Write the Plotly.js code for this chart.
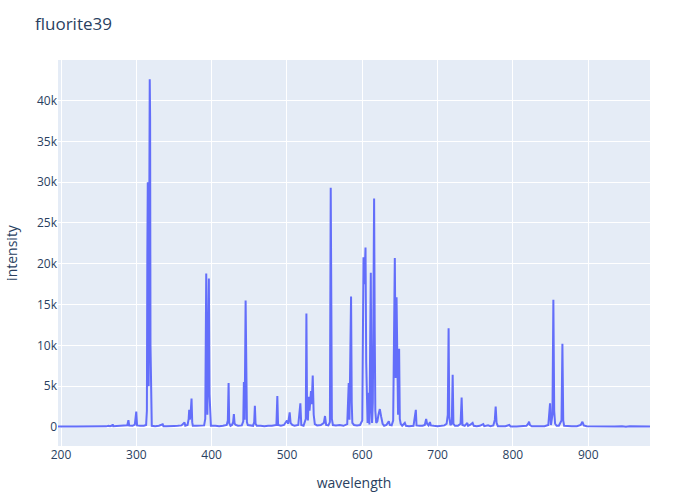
<!DOCTYPE html>
<html>
<head>
<meta charset="utf-8">
<script src="https://cdn.plot.ly/plotly-3.0.1.min.js"></script>
<style>html,body{margin:0;padding:0;background:#fff;}#chart{width:700px;height:500px;}</style>
</head>
<body>
<div id="chart"></div>
<script>
const chartTitle = "fluorite39";
const xLabel = "wavelength";
const yLabel = "intensity";

const wavelength = [
196,200,210,220,230,235,240,245,250,255,260,263,265,268,268.6,269.5,275,280,285,288,289.5,290.5,295,298,299.9,301,305,310,313,
314,314.6,315.2,315.8,316.4,317,317.8,318.3,318.8,319.3,319.8,320.5,325,330,335,336,340,345,350,355,360,364,365,368,369.5,370.2,371,372,373.3,374.2,375,
380,385,390,391.5,392.8,393.5,394.3,395.3,396.3,397.2,398,399,405,410,415,420,421.5,422.5,423.3,425,427,428.5,429.5,430.5,432,435,440,442,442.8,443.8,445.1,446,446.8,448,
450,455,456.5,457.4,458.3,460,465,470,475,480,486,487.2,488.2,492,496,498.5,500,501.5,503.6,504.8,507,510,515,517.8,519,522,525,525.8,526.6,527.8,528.9,530,531.9,532.8,534.2,535.5,537,
540,545,549,550.5,552,555,557,558.1,558.9,559.6,561,565,570,575,580,582,583,585.1,586,586.8,589,593,597,600,601.6,602.4,603.2,604.3,605.2,606,607,608,608.6,609.5,610.3,611.3,612.2,613,614,615.7,616.5,617.3,618.5,
620,621.5,623.3,625,627,629,632,635.2,636.5,639,641,643.2,644.3,645.5,646.5,647.5,648.9,649.8,651,653,656.5,658,662,668,671.1,672,676,680,683,684.8,686,688,689.8,691,695,
700,705,709,712,713.5,714.6,715.5,717,718.8,720,721,723,727,730.5,731.9,733,736,739.4,740.5,743,746.5,748,752,756,760.6,762,767,770,774,776,777.1,778.3,780,785,790,795.2,797,
805,812,818,820.3,821.4,822.6,825,830,836,842,847,849.3,850.5,852.5,853.7,854.8,856,858,861,864.5,865.7,866.8,868,872,878,885,890,892.3,894,898,
905,915,925,935,945,950,955,965,975,982
];

const intensity = [
60,40,50,70,60,90,70,60,90,100,80,140,100,180,330,100,130,100,150,220,850,180,150,300,1900,200,150,150,250,
2000,21000,30000,12000,5000,22000,42600,38000,10000,5000,900,150,100,150,330,100,100,80,130,150,200,550,150,250,1000,2100,900,1500,3500,600,150,
150,150,200,1000,18800,11000,1500,8000,18200,4000,500,150,150,100,150,250,800,5400,500,150,250,600,1600,400,250,150,200,700,5500,900,15500,3000,600,250,
200,150,600,2600,400,150,150,100,150,150,250,3800,250,150,250,600,800,400,1800,500,250,150,250,2900,250,150,1000,13900,3000,800,3700,2000,4400,2800,6300,1500,350,
200,250,500,1350,250,200,600,29300,15000,1000,250,200,250,150,350,5400,900,16000,3000,500,250,200,250,800,20800,17500,19000,22000,8000,1000,500,1500,4200,300,6000,18900,2000,500,3000,28000,12000,2000,500,
700,1500,2200,1300,400,150,250,700,250,200,800,20700,6000,15900,4000,1500,9600,1000,400,150,500,150,100,150,2100,200,150,150,250,1000,400,200,600,200,150,
100,150,200,400,1500,12100,1200,250,400,6400,400,150,150,400,3600,250,150,500,150,250,500,150,100,150,350,100,200,100,200,900,2500,500,100,100,100,250,60,
60,100,150,400,650,250,100,100,60,100,250,2900,250,1500,15600,2000,400,150,150,800,10200,800,150,100,100,100,250,650,200,100,
80,60,80,60,100,40,100,60,100,60
];

const trace = {
  x: wavelength,
  y: intensity,
  type: "scatter",
  mode: "lines",
  line: {color: "#636efa", width: 2},
  name: ""
};

const layout = {
  width: 700,
  height: 500,
  paper_bgcolor: "#ffffff",
  plot_bgcolor: "#E5ECF6",
  font: {family: '"Open Sans", verdana, arial, sans-serif', color: "#2a3f5f", size: 12},
  title: {text: chartTitle, x: 0.05, font: {size: 17, color: "#2a3f5f"}},
  margin: {l: 58, r: 50, t: 60, b: 54},
  showlegend: false,
  xaxis: {
    title: {text: xLabel, font: {size: 14}, standoff: 16},
    gridcolor: "white", linecolor: "white", zerolinecolor: "white", zerolinewidth: 2,
    ticks: "", showline: false, automargin: false
  },
  yaxis: {
    title: {text: yLabel, font: {size: 14}, standoff: 16},
    gridcolor: "white", linecolor: "white", zerolinecolor: "white", zerolinewidth: 2,
    ticks: "", showline: false, automargin: false
  }
};

Plotly.newPlot("chart", [trace], layout, {displayModeBar: false, staticPlot: true});
</script>
</body>
</html>
